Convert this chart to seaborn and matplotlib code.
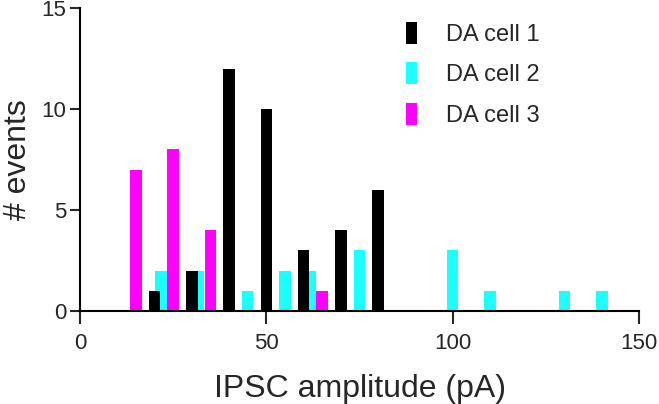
import numpy as np
import pandas as pd
import matplotlib
matplotlib.use("Agg")
import matplotlib.pyplot as plt
import seaborn as sns

sns.set_style("ticks")
plt.rcParams['font.family'] = ['Liberation Sans', 'DejaVu Sans']

# values (bin centre in pA, number of events)
cell1_x = [20, 30, 40, 50, 60, 70, 80]
cell1_n = [1, 2, 12, 10, 3, 4, 6]
cell2_x = [21.8, 31.8, 45, 55, 61.8, 75, 100, 110, 130, 140]
cell2_n = [2, 2, 1, 2, 2, 3, 3, 1, 1, 1]
cell3_x = [15, 25, 35, 65]
cell3_n = [7, 8, 4, 1]

labels = ["DA cell 1", "DA cell 2", "DA cell 3"]
colors = {"DA cell 1": "#000000", "DA cell 2": "#1CFFFF", "DA cell 3": "#FF00FF"}

d1 = pd.DataFrame({"amp": cell1_x, "n": cell1_n})
d2 = pd.DataFrame({"amp": cell2_x, "n": cell2_n})
d3 = pd.DataFrame({"amp": cell3_x, "n": cell3_n})

bar_w = 3.1  # bar width in pA

fig = plt.figure(figsize=(6.59, 4.04), dpi=100)
ax = fig.add_axes([80 / 659, 93 / 404, 559 / 659, 303 / 404])

# cyan first so black / magenta sit in front of it
for name, df in [("DA cell 2", d2), ("DA cell 1", d1), ("DA cell 3", d3)]:
    # seaborn's native width is the smallest gap between x values
    step = np.diff(np.sort(df["amp"].values)).min()
    sns.barplot(data=df, x="amp", y="n", native_scale=True, width=bar_w / step,
                color=colors[name], saturation=1, errorbar=None,
                linewidth=0, label=name, ax=ax)

ax.set_xlim(0, 150)
ax.set_ylim(0, 15)
ax.set_xticks([0, 50, 100, 150])
ax.set_yticks([0, 5, 10, 15])
ax.set_xticklabels(["0", "50", "100", "150"])
ax.set_yticklabels(["0", "5", "10", "15"])
ax.set_xlabel("IPSC amplitude (pA)", fontsize=23, labelpad=14)
ax.set_ylabel("# events", fontsize=23, labelpad=6)
ax.tick_params(axis="x", length=9, width=1.5, labelsize=16, pad=7, direction="out")
ax.tick_params(axis="y", length=7, width=1.5, labelsize=16, pad=3, direction="out")
sns.despine(ax=ax)
for s in ["left", "bottom"]:
    ax.spines[s].set_linewidth(1.5)
    ax.spines[s].set_color("black")

h, l = ax.get_legend_handles_labels()
order = [l.index(x) for x in labels]
ax.legend([h[i] for i in order], labels, loc="upper left",
          bbox_to_anchor=(0.583, 0.955), frameon=False, fontsize=17,
          handlelength=0.48, handleheight=1.05, handletextpad=1.2,
          labelspacing=0.7, borderpad=0, borderaxespad=0)

fig.savefig("out.png", dpi=100)
